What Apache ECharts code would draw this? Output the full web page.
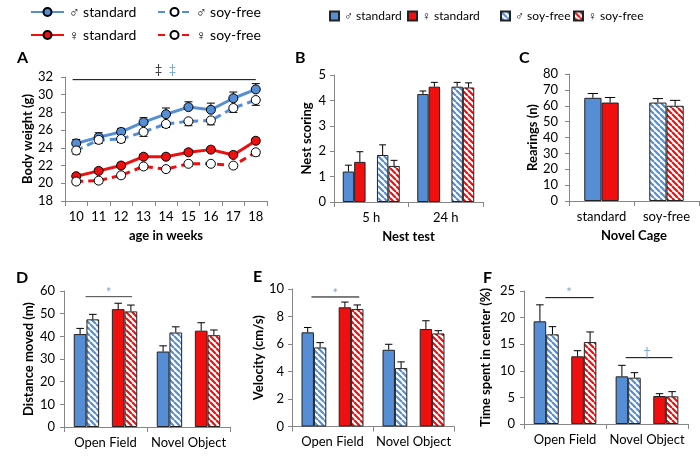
<!DOCTYPE html>
<html><head><meta charset="utf-8">
<script src="https://cdn.jsdelivr.net/npm/echarts@6/dist/echarts.min.js"></script>
<style>html,body{margin:0;padding:0;background:#fff}#c{width:700px;height:461px}</style>
</head><body><div id="c"></div>
<script>
// ---------------- data ----------------
const weeks = ['10','11','12','13','14','15','16','17','18'];
const bwMaleStd    = [24.5,25.2,25.8,26.9,27.8,28.6,28.3,29.6,30.6];
const bwMaleStdErr = [0.45,0.5,0.4,0.5,0.7,0.6,0.75,0.7,0.65];
const bwMaleSoy    = [23.7,24.9,25.0,25.8,26.7,27.0,27.1,28.5,29.4];
const bwMaleSoyErr = [0.4,0.4,0.4,0.5,0.4,0.5,0.5,0.5,0.6];
const bwFemStd     = [20.8,21.4,22.0,23.0,23.0,23.5,23.8,23.2,24.8];
const bwFemStdErr  = [0.3,0.3,0.3,0.3,0.3,0.3,0.3,0.3,0.3];
const bwFemSoy     = [20.2,20.3,20.9,21.9,21.6,22.2,22.2,22.0,23.5];
const bwFemSoyErr  = [0.3,0.3,0.3,0.3,0.3,0.3,0.3,0.3,0.4];

const nestCats = ['5 h','24 h'];
const nestMaleStd = [1.2, 4.25],  nestMaleStdErr = [0.25, 0.12];
const nestFemStd  = [1.58, 4.54], nestFemStdErr  = [0.4, 0.17];
const nestMaleSoy = [1.85, 4.54], nestMaleSoyErr = [0.4, 0.17];
const nestFemSoy  = [1.42, 4.51], nestFemSoyErr  = [0.22, 0.18];

const cageCats = ['standard','soy-free'];
const rearMale = [65, 62], rearMaleErr = [2.7, 2.5];
const rearFem  = [62, 60], rearFemErr  = [3.2, 3.4];

const testCats = ['Open Field','Novel Object'];
const distMaleStd = [41, 33.3],   distMaleStdErr = [2.5, 2.5];
const distMaleSoy = [47.5, 41.7], distMaleSoyErr = [2.2, 2.5];
const distFemStd  = [52, 42.5],   distFemStdErr  = [2.6, 3.5];
const distFemSoy  = [51, 40.5],   distFemSoyErr  = [2.8, 2.3];
const velMaleStd = [6.85, 5.58], velMaleStdErr = [0.35, 0.4];
const velMaleSoy = [5.75, 4.25], velMaleSoyErr = [0.35, 0.45];
const velFemStd  = [8.67, 7.09], velFemStdErr  = [0.38, 0.6];
const velFemSoy  = [8.54, 6.77], velFemSoyErr  = [0.3, 0.2];
const ctrMaleStd = [19.3, 8.96],  ctrMaleStdErr = [3.1, 2.07];
const ctrMaleSoy = [16.85, 8.71], ctrMaleSoyErr = [1.45, 0.94];
const ctrFemStd  = [12.72, 5.26], ctrFemStdErr  = [1.06, 0.44];
const ctrFemSoy  = [15.4, 5.2],   ctrFemSoyErr  = [1.9, 0.88];

// significance annotations (x in category units, y in data units)
const sigALine = [[-0.16, 31.7],[8.0, 31.7]];
const sigAMarks = [{t:'‡', x:3.67, y:32.8, c:'#000'},{t:'‡', x:4.29, y:32.8, c:'#558ED5'}];
const sigDLine = [[-0.24, 57.5],[0.32, 57.5]];
const sigDMarks = [{t:'*', x:0.04, y:59.0, c:'#558ED5'}];
const sigELine = [[-0.26, 9.42],[0.33, 9.42]];
const sigEMarks = [{t:'*', x:0.035, y:9.68, c:'#558ED5'}];
const sigFLine1 = [[-0.24, 23.75],[0.35, 23.75]];
const sigFLine2 = [[0.74, 12.47],[1.31, 12.47]];
const sigFMarks = [{t:'*', x:0.05, y:24.6, c:'#558ED5'},{t:'†', x:1.0, y:13.4, c:'#558ED5'}];

// ---------------- styling ----------------
const F = 'Lato';
const BLUE = '#558ED5', RED = '#F00F0F', AX = '#868686';
function hatch(color){
  const s = 6, c = document.createElement('canvas'); c.width = c.height = s;
  const g = c.getContext('2d'); g.fillStyle = '#fff'; g.fillRect(0,0,s,s);
  g.strokeStyle = color; g.lineWidth = 2.2; g.beginPath();
  for (const k of [-s,0,s]) { g.moveTo(k,0); g.lineTo(k+s,s); }
  g.stroke();
  return {image: c, repeat: 'repeat'};
}
const HB = hatch(BLUE), HR = hatch(RED);
const legendLabels = {
  'A-m-std':'♂ standard','A-m-soy':'♂ soy-free','A-f-std':'♀ standard','A-f-soy':'♀ soy-free',
  'm-std':'♂ standard','f-std':'♀ standard','m-soy':'♂ soy-free','f-soy':'♀ soy-free'
};
const txt = {fontFamily:F, fontSize:13, color:'#000'};
const legTxt = {fontFamily:F, fontSize:12, color:'#000'};

function yAx(gi, min, max, interval, name, gap, margin){
  return {type:'value', gridIndex:gi, min, max, interval, name, nameLocation:'middle', nameGap:gap, nameRotate:90,
    nameTextStyle:{fontFamily:F, fontWeight:'bold', fontSize:13, color:'#000'},
    axisLine:{show:true, onZero:false, lineStyle:{color:AX}}, axisTick:{show:true, length:4, lineStyle:{color:AX}},
    axisLabel:Object.assign({margin}, txt), splitLine:{show:false}};
}
function xAx(gi, data, name){
  return {type:'category', gridIndex:gi, data, name: name||'', nameLocation:'middle', nameGap:28,
    nameTextStyle:{fontFamily:F, fontWeight:'bold', fontSize:13, color:'#000'},
    axisLine:{show:true, onZero:false, lineStyle:{color:AX}}, axisTick:{show:true, length:5, lineStyle:{color:AX}},
    axisLabel:Object.assign({margin:9, interval:0}, txt)};
}
function hidX(gi, n){ return {type:'value', gridIndex:gi, min:-0.5, max:n-0.5, show:false,
  axisLine:{show:false, onZero:false}, splitLine:{show:false}}; }

function bar(name, ax, data, color, gap){
  return {type:'bar', name, xAxisIndex:ax, yAxisIndex:ax, data, barGap:'0%', barCategoryGap:gap,
    itemStyle:{color, borderColor:'#222', borderWidth:1}, z:2, silent:true};
}
function errItems(slot, vals, errs){ return vals.map((v,i)=>[i, slot, v, errs[i]]); }
function errBars(ax, items, nSlots, gapFrac){
  return {type:'custom', xAxisIndex:ax, yAxisIndex:ax, z:5, silent:true, encode:{x:0, y:2}, data:items,
    renderItem(params, api){
      const cat = api.value(0), slot = api.value(1), v = api.value(2), e = api.value(3);
      const base = api.coord([cat, v]), top = api.coord([cat, v+e]);
      const band = api.size([1,0])[0];
      const bw = band*(1-gapFrac)/nSlots;
      const x = base[0] + (slot - (nSlots-1)/2)*bw;
      const cap = Math.max(3, bw*0.3);
      const st = {stroke:'#000', lineWidth:1};
      return {type:'group', children:[
        {type:'line', shape:{x1:x, y1:base[1], x2:x, y2:top[1]}, style:st},
        {type:'line', shape:{x1:x-cap, y1:top[1], x2:x+cap, y2:top[1]}, style:st}
      ]};
    }};
}
function lineErr(vals, errs, dir){
  return {type:'custom', xAxisIndex:0, yAxisIndex:0, z:1, silent:true, encode:{x:0, y:1},
    data: vals.map((v,i)=>[i, v, errs[i]]),
    renderItem(params, api){
      const c = api.coord([api.value(0), api.value(1)]);
      const e = api.coord([api.value(0), api.value(1) + dir*api.value(2)]);
      const st = {stroke:'#000', lineWidth:1};
      return {type:'group', children:[
        {type:'line', shape:{x1:c[0], y1:c[1], x2:c[0], y2:e[1]}, style:st},
        {type:'line', shape:{x1:c[0]-4, y1:e[1], x2:c[0]+4, y2:e[1]}, style:st}
      ]};
    }};
}
function wline(name, data, color, dashed, filled){
  return {type:'line', name, xAxisIndex:0, yAxisIndex:0, data, z:3, silent:true,
    symbol:'circle', symbolSize:9,
    lineStyle:{color, width:3, type: dashed ? [7,5] : 'solid'},
    itemStyle:{color: filled ? color : '#fff', borderColor:'#000', borderWidth:1}};
}
function sigLine(ax, yax, data, color){
  return {type:'line', xAxisIndex:ax, yAxisIndex:yax, data, symbol:'none', silent:true, clip:false, z:6,
    lineStyle:{color: color||'#000', width:1}};
}
function sigMarks(ax, yax, marks){
  return {type:'scatter', xAxisIndex:ax, yAxisIndex:yax, clip:false, silent:true, symbolSize:0, z:6,
    data: marks.map(m=>({name:m.t, value:[m.x, m.y], label:{color:m.c}})),
    label:{show:true, position:'inside', formatter:'{b}', fontFamily:F, fontSize:13}};
}
const G5 = 0.235, GC = 0.47;

const option = {
  animation:false,
  backgroundColor:'#fff',
  textStyle:{fontFamily:F},
  grid:[
    {left:65, top:77, width:202, height:124},
    {left:334, top:75, width:149, height:127},
    {left:569, top:74, width:130, height:127},
    {left:64, top:291, width:166, height:136},
    {left:292, top:289, width:162, height:137.5},
    {left:524, top:291, width:164, height:133}
  ],
  xAxis:[
    xAx(0, weeks, 'age in weeks'),
    xAx(1, nestCats, 'Nest test'),
    xAx(2, cageCats, 'Novel Cage'),
    xAx(3, testCats), xAx(4, testCats), xAx(5, testCats),
    hidX(0, weeks.length), hidX(3, 2), hidX(4, 2), hidX(5, 2)
  ],
  yAxis:[
    yAx(0, 18, 32, 2, 'Body weight (g)', 30, 12),
    yAx(1, 0, 5, 1, 'Nest scoring', 21, 8),
    yAx(2, 0, 80, 10, 'Rearings (n)', 27, 11),
    yAx(3, 0, 60, 10, 'Distance moved (m)', 29, 9),
    yAx(4, 0, 10, 2, 'Velocity (cm/s)', 25, 8),
    yAx(5, 0, 25, 5, 'Time spent in center (%)', 32, 9)
  ],
  legend:[
    {data:['A-m-std'], left:30, top:5},
    {data:['A-m-soy'], left:157, top:5},
    {data:['A-f-std'], left:30, top:28},
    {data:['A-f-soy'], left:157, top:28},
    {data:['m-std'], left:329, top:10, icon:'rect', itemWidth:9, itemHeight:9, itemGap:0, textStyle:legTxt},
    {data:['f-std'], left:407, top:10, icon:'rect', itemWidth:9, itemHeight:9, itemGap:0, textStyle:legTxt},
    {data:['m-soy'], left:500, top:10, icon:'rect', itemWidth:9, itemHeight:9, itemGap:0, textStyle:legTxt},
    {data:['f-soy'], left:573, top:10, icon:'rect', itemWidth:9, itemHeight:9, itemGap:0, textStyle:legTxt}
  ].map(l=>Object.assign({itemWidth:33, itemHeight:10, selectedMode:false, padding:0,
    formatter:n=>legendLabels[n], textStyle:{fontFamily:F, fontSize:14, color:'#000'}}, l)),
  graphic:[
    ['A',17,50],['B',295,50],['C',519,50],['D',16,270],['E',253,269],['F',483,270]
  ].map(([t,x,y])=>({type:'text', left:x, top:y, style:{text:t, font:'bold 16px Lato', fill:'#000'}})),
  series:[
    // Panel A
    lineErr(bwMaleStd, bwMaleStdErr, 1), lineErr(bwMaleSoy, bwMaleSoyErr, -1),
    lineErr(bwFemStd, bwFemStdErr, 1), lineErr(bwFemSoy, bwFemSoyErr, -1),
    wline('A-m-std', bwMaleStd, BLUE, false, true),
    wline('A-m-soy', bwMaleSoy, BLUE, true, false),
    wline('A-f-std', bwFemStd, RED, false, true),
    wline('A-f-soy', bwFemSoy, RED, true, false),
    sigLine(6, 0, sigALine), sigMarks(6, 0, sigAMarks),
    // Panel B
    bar('m-std', 1, nestMaleStd, BLUE, '23.5%'),
    bar('f-std', 1, nestFemStd, RED, '23.5%'),
    bar('gapB', 1, [null, null], 'transparent', '23.5%'),
    bar('m-soy', 1, nestMaleSoy, HB, '23.5%'),
    bar('f-soy', 1, nestFemSoy, HR, '23.5%'),
    errBars(1, [].concat(errItems(0, nestMaleStd, nestMaleStdErr), errItems(1, nestFemStd, nestFemStdErr),
      errItems(3, nestMaleSoy, nestMaleSoyErr), errItems(4, nestFemSoy, nestFemSoyErr)), 5, G5),
    // Panel C
    bar('C-m', 2, rearMale.map((v,i)=>({value:v, itemStyle:{color: i===0 ? BLUE : HB}})), BLUE, '47%'),
    bar('C-f', 2, rearFem.map((v,i)=>({value:v, itemStyle:{color: i===0 ? RED : HR}})), RED, '47%'),
    errBars(2, [].concat(errItems(0, rearMale, rearMaleErr), errItems(1, rearFem, rearFemErr)), 2, GC),
    // Panel D
    bar('D-m-std', 3, distMaleStd, BLUE, '23.5%'),
    bar('D-m-soy', 3, distMaleSoy, HB, '23.5%'),
    bar('gapD', 3, [null, null], 'transparent', '23.5%'),
    bar('D-f-std', 3, distFemStd, RED, '23.5%'),
    bar('D-f-soy', 3, distFemSoy, HR, '23.5%'),
    errBars(3, [].concat(errItems(0, distMaleStd, distMaleStdErr), errItems(1, distMaleSoy, distMaleSoyErr),
      errItems(3, distFemStd, distFemStdErr), errItems(4, distFemSoy, distFemSoyErr)), 5, G5),
    sigLine(7, 3, sigDLine, '#444'), sigMarks(7, 3, sigDMarks),
    // Panel E
    bar('E-m-std', 4, velMaleStd, BLUE, '23.5%'),
    bar('E-m-soy', 4, velMaleSoy, HB, '23.5%'),
    bar('gapE', 4, [null, null], 'transparent', '23.5%'),
    bar('E-f-std', 4, velFemStd, RED, '23.5%'),
    bar('E-f-soy', 4, velFemSoy, HR, '23.5%'),
    errBars(4, [].concat(errItems(0, velMaleStd, velMaleStdErr), errItems(1, velMaleSoy, velMaleSoyErr),
      errItems(3, velFemStd, velFemStdErr), errItems(4, velFemSoy, velFemSoyErr)), 5, G5),
    sigLine(8, 4, sigELine), sigMarks(8, 4, sigEMarks),
    // Panel F
    bar('F-m-std', 5, ctrMaleStd, BLUE, '23.5%'),
    bar('F-m-soy', 5, ctrMaleSoy, HB, '23.5%'),
    bar('gapF', 5, [null, null], 'transparent', '23.5%'),
    bar('F-f-std', 5, ctrFemStd, RED, '23.5%'),
    bar('F-f-soy', 5, ctrFemSoy, HR, '23.5%'),
    errBars(5, [].concat(errItems(0, ctrMaleStd, ctrMaleStdErr), errItems(1, ctrMaleSoy, ctrMaleSoyErr),
      errItems(3, ctrFemStd, ctrFemStdErr), errItems(4, ctrFemSoy, ctrFemSoyErr)), 5, G5),
    sigLine(9, 5, sigFLine1), sigLine(9, 5, sigFLine2), sigMarks(9, 5, sigFMarks)
  ]
};
const chart = echarts.init(document.getElementById('c'), null, {renderer:'canvas'});
chart.setOption(option);
</script>
</body></html>
